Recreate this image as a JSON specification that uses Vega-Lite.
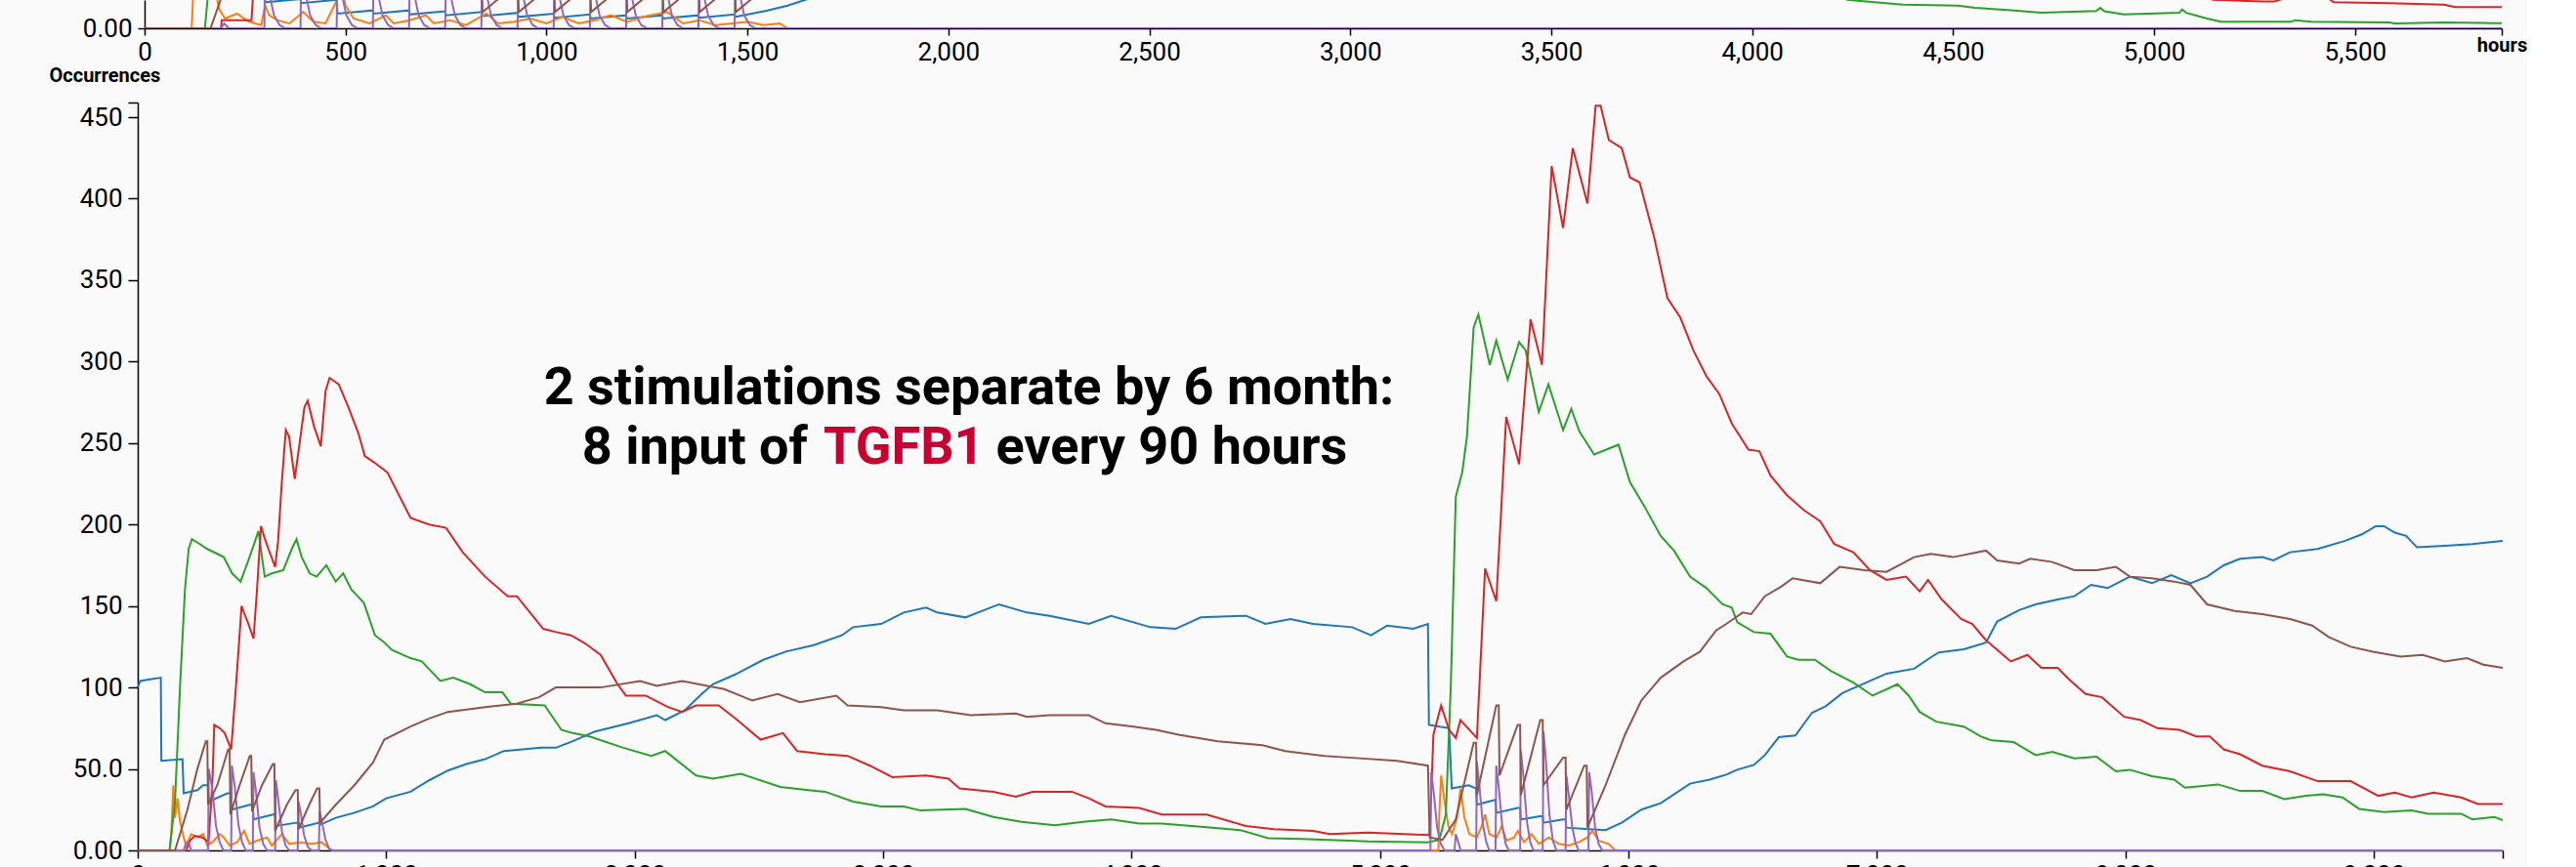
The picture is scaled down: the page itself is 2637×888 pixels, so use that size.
{
"$schema": "https://vega.github.io/schema/vega-lite/v6.json",
"background": "#fafafa",
"padding": {"left": 50, "top": 0, "right": 0, "bottom": 0},
"bounds": "flush",
"spacing": 76,
"config": {"view": {"stroke": null}, "font": "Roboto"},
"datasets": {
"top": [
{"s":"blue","h":0,"v":40},{"s":"blue","h":298,"v":40},{"s":"blue","h":300,"v":16},{"s":"blue","h":388,"v":18},{"s":"blue","h":390,"v":15.5},{"s":"blue","h":478,"v":17.5},{"s":"blue","h":480,"v":9},{"s":"blue","h":568,"v":11},{"s":"blue","h":570,"v":9},{"s":"blue","h":658,"v":11},{"s":"blue","h":660,"v":8.5},{"s":"blue","h":748,"v":10.5},{"s":"blue","h":750,"v":8},{"s":"blue","h":838,"v":10},{"s":"blue","h":840,"v":7.5},{"s":"blue","h":928,"v":9.5},{"s":"blue","h":930,"v":7},{"s":"blue","h":1018,"v":9},{"s":"blue","h":1020,"v":6.5},{"s":"blue","h":1108,"v":8.5},{"s":"blue","h":1110,"v":6},{"s":"blue","h":1198,"v":8},{"s":"blue","h":1200,"v":6},{"s":"blue","h":1288,"v":8},{"s":"blue","h":1290,"v":6},{"s":"blue","h":1378,"v":8},{"s":"blue","h":1380,"v":6.5},{"s":"blue","h":1468,"v":8.5},{"s":"blue","h":1470,"v":7},{"s":"blue","h":1550,"v":11},{"s":"blue","h":1600,"v":14},{"s":"blue","h":1650,"v":18},{"s":"blue","h":1700,"v":25},{"s":"blue","h":5865,"v":40},
{"s":"orange","h":0,"v":0},{"s":"orange","h":117,"v":0},{"s":"orange","h":125,"v":40},{"s":"orange","h":165,"v":40},{"s":"orange","h":185,"v":12},{"s":"orange","h":200,"v":6},{"s":"orange","h":230,"v":9},{"s":"orange","h":260,"v":4},{"s":"orange","h":290,"v":2},{"s":"orange","h":300,"v":14},{"s":"orange","h":310,"v":8},{"s":"orange","h":330,"v":5},{"s":"orange","h":360,"v":3},{"s":"orange","h":395,"v":10},{"s":"orange","h":420,"v":4},{"s":"orange","h":450,"v":3},{"s":"orange","h":480,"v":18},{"s":"orange","h":490,"v":25},{"s":"orange","h":500,"v":14},{"s":"orange","h":520,"v":6},{"s":"orange","h":560,"v":3},{"s":"orange","h":600,"v":8},{"s":"orange","h":620,"v":3},{"s":"orange","h":660,"v":5},{"s":"orange","h":700,"v":8},{"s":"orange","h":720,"v":3},{"s":"orange","h":760,"v":5},{"s":"orange","h":800,"v":2},{"s":"orange","h":850,"v":9},{"s":"orange","h":880,"v":3},{"s":"orange","h":920,"v":4},{"s":"orange","h":960,"v":6},{"s":"orange","h":1000,"v":3},{"s":"orange","h":1040,"v":7},{"s":"orange","h":1080,"v":3},{"s":"orange","h":1120,"v":5},{"s":"orange","h":1160,"v":8},{"s":"orange","h":1200,"v":4},{"s":"orange","h":1240,"v":7},{"s":"orange","h":1300,"v":10},{"s":"orange","h":1340,"v":3},{"s":"orange","h":1380,"v":5},{"s":"orange","h":1420,"v":2},{"s":"orange","h":1500,"v":4},{"s":"orange","h":1540,"v":2},{"s":"orange","h":1580,"v":3},{"s":"orange","h":1600,"v":0},{"s":"orange","h":5865,"v":0},
{"s":"green","h":0,"v":0},{"s":"green","h":150,"v":0},{"s":"green","h":165,"v":40},{"s":"green","h":4150,"v":40},{"s":"green","h":4236,"v":17.5},{"s":"green","h":4375,"v":14.6},{"s":"green","h":4512,"v":14},{"s":"green","h":4554,"v":12.6},{"s":"green","h":4637,"v":11.2},{"s":"green","h":4719,"v":9.6},{"s":"green","h":4856,"v":10.6},{"s":"green","h":4866,"v":12.6},{"s":"green","h":4876,"v":10.5},{"s":"green","h":4925,"v":8.6},{"s":"green","h":5063,"v":9.6},{"s":"green","h":5070,"v":11.6},{"s":"green","h":5080,"v":9.5},{"s":"green","h":5132,"v":6},{"s":"green","h":5166,"v":4},{"s":"green","h":5340,"v":4},{"s":"green","h":5351,"v":5},{"s":"green","h":5392,"v":4},{"s":"green","h":5584,"v":3.6},{"s":"green","h":5600,"v":3},{"s":"green","h":5721,"v":3.6},{"s":"green","h":5852,"v":3.2},{"s":"green","h":5865,"v":3.2},
{"s":"red","h":0,"v":0},{"s":"red","h":190,"v":0},{"s":"red","h":192,"v":5},{"s":"red","h":266,"v":5},{"s":"red","h":275,"v":40},{"s":"red","h":5100,"v":40},{"s":"red","h":5146,"v":17.5},{"s":"red","h":5270,"v":16.5},{"s":"red","h":5300,"v":16.5},{"s":"red","h":5330,"v":19},{"s":"red","h":5430,"v":19},{"s":"red","h":5447,"v":16},{"s":"red","h":5584,"v":15.5},{"s":"red","h":5721,"v":14.6},{"s":"red","h":5749,"v":13},{"s":"red","h":5865,"v":13},
{"s":"purple","h":0,"v":0},{"s":"purple","h":190,"v":0},{"s":"purple","h":198,"v":3},{"s":"purple","h":210,"v":0},
{"s":"purple","h":298,"v":0},{"s":"purple","h":300,"v":40},{"s":"purple","h":310,"v":22},{"s":"purple","h":322,"v":8},{"s":"purple","h":336,"v":2},{"s":"purple","h":350,"v":0},
{"s":"purple","h":388,"v":0},{"s":"purple","h":390,"v":40},{"s":"purple","h":400,"v":22},{"s":"purple","h":412,"v":8},{"s":"purple","h":426,"v":2},{"s":"purple","h":440,"v":0},
{"s":"purple","h":478,"v":0},{"s":"purple","h":480,"v":40},{"s":"purple","h":490,"v":22},{"s":"purple","h":502,"v":8},{"s":"purple","h":516,"v":2},{"s":"purple","h":530,"v":0},
{"s":"purple","h":568,"v":0},{"s":"purple","h":570,"v":40},{"s":"purple","h":580,"v":22},{"s":"purple","h":592,"v":8},{"s":"purple","h":606,"v":2},{"s":"purple","h":620,"v":0},
{"s":"purple","h":658,"v":0},{"s":"purple","h":660,"v":40},{"s":"purple","h":670,"v":22},{"s":"purple","h":682,"v":8},{"s":"purple","h":696,"v":2},{"s":"purple","h":710,"v":0},
{"s":"purple","h":748,"v":0},{"s":"purple","h":750,"v":40},{"s":"purple","h":760,"v":22},{"s":"purple","h":772,"v":8},{"s":"purple","h":786,"v":2},{"s":"purple","h":800,"v":0},
{"s":"purple","h":838,"v":0},{"s":"purple","h":840,"v":40},{"s":"purple","h":850,"v":22},{"s":"purple","h":862,"v":8},{"s":"purple","h":876,"v":2},{"s":"purple","h":890,"v":0},
{"s":"purple","h":928,"v":0},{"s":"purple","h":930,"v":40},{"s":"purple","h":940,"v":22},{"s":"purple","h":952,"v":8},{"s":"purple","h":966,"v":2},{"s":"purple","h":980,"v":0},
{"s":"purple","h":1018,"v":0},{"s":"purple","h":1020,"v":40},{"s":"purple","h":1030,"v":22},{"s":"purple","h":1042,"v":8},{"s":"purple","h":1056,"v":2},{"s":"purple","h":1070,"v":0},
{"s":"purple","h":1108,"v":0},{"s":"purple","h":1110,"v":40},{"s":"purple","h":1120,"v":22},{"s":"purple","h":1132,"v":8},{"s":"purple","h":1146,"v":2},{"s":"purple","h":1160,"v":0},
{"s":"purple","h":1198,"v":0},{"s":"purple","h":1200,"v":40},{"s":"purple","h":1210,"v":22},{"s":"purple","h":1222,"v":8},{"s":"purple","h":1236,"v":2},{"s":"purple","h":1250,"v":0},
{"s":"purple","h":1288,"v":0},{"s":"purple","h":1290,"v":40},{"s":"purple","h":1300,"v":22},{"s":"purple","h":1312,"v":8},{"s":"purple","h":1326,"v":2},{"s":"purple","h":1340,"v":0},
{"s":"purple","h":1378,"v":0},{"s":"purple","h":1380,"v":40},{"s":"purple","h":1390,"v":22},{"s":"purple","h":1402,"v":8},{"s":"purple","h":1416,"v":2},{"s":"purple","h":1430,"v":0},
{"s":"purple","h":1468,"v":0},{"s":"purple","h":1470,"v":40},{"s":"purple","h":1480,"v":22},{"s":"purple","h":1492,"v":8},{"s":"purple","h":1506,"v":2},{"s":"purple","h":1520,"v":0},
{"s":"purple","h":5865,"v":0},
{"s":"brown","h":0,"v":0},{"s":"brown","h":164,"v":0},{"s":"brown","h":200,"v":25},{"s":"brown","h":300,"v":40},{"s":"brown","h":745,"v":40},{"s":"brown","h":751,"v":20},
{"s":"brown","h":839,"v":26},{"s":"brown","h":841,"v":10},{"s":"brown","h":880,"v":18},
{"s":"brown","h":929,"v":26},{"s":"brown","h":931,"v":10},{"s":"brown","h":970,"v":18},
{"s":"brown","h":1019,"v":26},{"s":"brown","h":1021,"v":10},{"s":"brown","h":1060,"v":18},
{"s":"brown","h":1109,"v":26},{"s":"brown","h":1111,"v":10},{"s":"brown","h":1150,"v":18},
{"s":"brown","h":1199,"v":26},{"s":"brown","h":1201,"v":10},{"s":"brown","h":1240,"v":18},
{"s":"brown","h":1289,"v":26},{"s":"brown","h":1291,"v":10},{"s":"brown","h":1330,"v":18},
{"s":"brown","h":1379,"v":26},{"s":"brown","h":1381,"v":10},{"s":"brown","h":1420,"v":18},
{"s":"brown","h":1469,"v":26},{"s":"brown","h":1471,"v":10},{"s":"brown","h":1510,"v":18},
{"s":"brown","h":1560,"v":26},{"s":"brown","h":1700,"v":40},{"s":"brown","h":5865,"v":40}
],
"bottom": [
{"s":"blue","h":0,"v":100},{"s":"blue","h":10,"v":104},{"s":"blue","h":50,"v":105},{"s":"blue","h":93,"v":106},{"s":"blue","h":95,"v":55},{"s":"blue","h":180,"v":56},{"s":"blue","h":185,"v":35},{"s":"blue","h":240,"v":37},{"s":"blue","h":263,"v":40},{"s":"blue","h":283,"v":40},{"s":"blue","h":286,"v":30},{"s":"blue","h":361,"v":35},{"s":"blue","h":376,"v":35},{"s":"blue","h":379,"v":25},{"s":"blue","h":451,"v":28},{"s":"blue","h":463,"v":28},{"s":"blue","h":466,"v":19},{"s":"blue","h":544,"v":22},{"s":"blue","h":553,"v":22},{"s":"blue","h":556,"v":15},{"s":"blue","h":640,"v":17},{"s":"blue","h":647,"v":17},{"s":"blue","h":649,"v":14},{"s":"blue","h":730,"v":17},{"s":"blue","h":737,"v":16},{"s":"blue","h":797,"v":20},{"s":"blue","h":870,"v":23},{"s":"blue","h":947,"v":27},{"s":"blue","h":1000,"v":32},{"s":"blue","h":1098,"v":36},{"s":"blue","h":1173,"v":43},{"s":"blue","h":1248,"v":49},{"s":"blue","h":1323,"v":53},{"s":"blue","h":1398,"v":56},{"s":"blue","h":1474,"v":61},{"s":"blue","h":1549,"v":62},{"s":"blue","h":1624,"v":63},{"s":"blue","h":1683,"v":63},{"s":"blue","h":1751,"v":67},{"s":"blue","h":1841,"v":73},{"s":"blue","h":1976,"v":78},{"s":"blue","h":2089,"v":83},{"s":"blue","h":2123,"v":80},{"s":"blue","h":2202,"v":86},{"s":"blue","h":2270,"v":96},{"s":"blue","h":2315,"v":102},{"s":"blue","h":2405,"v":108},{"s":"blue","h":2518,"v":117},{"s":"blue","h":2609,"v":122},{"s":"blue","h":2721,"v":126},{"s":"blue","h":2834,"v":132},{"s":"blue","h":2879,"v":137},{"s":"blue","h":2992,"v":139},{"s":"blue","h":3083,"v":146},{"s":"blue","h":3173,"v":149},{"s":"blue","h":3218,"v":146},{"s":"blue","h":3331,"v":143},{"s":"blue","h":3466,"v":151},{"s":"blue","h":3579,"v":146},{"s":"blue","h":3670,"v":144},{"s":"blue","h":3828,"v":139},{"s":"blue","h":3918,"v":144},{"s":"blue","h":4076,"v":137},{"s":"blue","h":4177,"v":136},{"s":"blue","h":4279,"v":143},{"s":"blue","h":4460,"v":144},{"s":"blue","h":4539,"v":139},{"s":"blue","h":4640,"v":142},{"s":"blue","h":4730,"v":139},{"s":"blue","h":4888,"v":137},{"s":"blue","h":4964,"v":132},{"s":"blue","h":5029,"v":138},{"s":"blue","h":5134,"v":136},{"s":"blue","h":5193,"v":139},{"s":"blue","h":5197,"v":77},{"s":"blue","h":5278,"v":75},{"s":"blue","h":5289,"v":38},{"s":"blue","h":5357,"v":40},{"s":"blue","h":5387,"v":38},{"s":"blue","h":5390,"v":28},{"s":"blue","h":5462,"v":31},{"s":"blue","h":5465,"v":31},{"s":"blue","h":5468,"v":23},{"s":"blue","h":5554,"v":26},{"s":"blue","h":5564,"v":26},{"s":"blue","h":5567,"v":19},{"s":"blue","h":5645,"v":21},{"s":"blue","h":5655,"v":21},{"s":"blue","h":5658,"v":17},{"s":"blue","h":5737,"v":19},{"s":"blue","h":5747,"v":19},{"s":"blue","h":5750,"v":14},{"s":"blue","h":5842,"v":13},{"s":"blue","h":5908,"v":12.5},{"s":"blue","h":5973,"v":17},{"s":"blue","h":6052,"v":25},{"s":"blue","h":6130,"v":29},{"s":"blue","h":6248,"v":41},{"s":"blue","h":6327,"v":43.5},{"s":"blue","h":6394,"v":46.5},{"s":"blue","h":6438,"v":49.5},{"s":"blue","h":6505,"v":52.5},{"s":"blue","h":6549,"v":58.5},{"s":"blue","h":6605,"v":69.5},{"s":"blue","h":6672,"v":70.5},{"s":"blue","h":6739,"v":84.5},{"s":"blue","h":6794,"v":88.5},{"s":"blue","h":6861,"v":96.5},{"s":"blue","h":6950,"v":102.5},{"s":"blue","h":7039,"v":108.5},{"s":"blue","h":7150,"v":111.5},{"s":"blue","h":7217,"v":118.5},{"s":"blue","h":7250,"v":121.5},{"s":"blue","h":7350,"v":123.5},{"s":"blue","h":7439,"v":127.5},{"s":"blue","h":7484,"v":140.5},{"s":"blue","h":7573,"v":147.5},{"s":"blue","h":7639,"v":151},{"s":"blue","h":7728,"v":154},{"s":"blue","h":7795,"v":156},{"s":"blue","h":7862,"v":163},{"s":"blue","h":7929,"v":161},{"s":"blue","h":8018,"v":168},{"s":"blue","h":8107,"v":164},{"s":"blue","h":8185,"v":169},{"s":"blue","h":8262,"v":164},{"s":"blue","h":8329,"v":168},{"s":"blue","h":8396,"v":175},{"s":"blue","h":8462,"v":179},{"s":"blue","h":8551,"v":180},{"s":"blue","h":8596,"v":178},{"s":"blue","h":8663,"v":183},{"s":"blue","h":8774,"v":185},{"s":"blue","h":8885,"v":190},{"s":"blue","h":8952,"v":194},{"s":"blue","h":9008,"v":199},{"s":"blue","h":9041,"v":199},{"s":"blue","h":9085,"v":195},{"s":"blue","h":9130,"v":193},{"s":"blue","h":9174,"v":186},{"s":"blue","h":9286,"v":187},{"s":"blue","h":9397,"v":188},{"s":"blue","h":9519,"v":190},
{"s":"orange","h":0,"v":0},{"s":"orange","h":128,"v":0},{"s":"orange","h":135,"v":10},{"s":"orange","h":143,"v":40},{"s":"orange","h":150,"v":20},{"s":"orange","h":160,"v":32},{"s":"orange","h":170,"v":18},{"s":"orange","h":185,"v":8},{"s":"orange","h":195,"v":3},{"s":"orange","h":215,"v":10},{"s":"orange","h":240,"v":8},{"s":"orange","h":263,"v":10},{"s":"orange","h":280,"v":3},{"s":"orange","h":300,"v":5},{"s":"orange","h":330,"v":10},{"s":"orange","h":346,"v":8},{"s":"orange","h":370,"v":3},{"s":"orange","h":400,"v":5},{"s":"orange","h":428,"v":12},{"s":"orange","h":450,"v":4},{"s":"orange","h":480,"v":6},{"s":"orange","h":520,"v":8},{"s":"orange","h":540,"v":3},{"s":"orange","h":580,"v":10},{"s":"orange","h":610,"v":4},{"s":"orange","h":650,"v":5},{"s":"orange","h":700,"v":4},{"s":"orange","h":740,"v":5},{"s":"orange","h":782,"v":0},{"s":"orange","h":5235,"v":0},{"s":"orange","h":5238,"v":20},{"s":"orange","h":5246,"v":46},{"s":"orange","h":5260,"v":30},{"s":"orange","h":5275,"v":15},{"s":"orange","h":5290,"v":10},{"s":"orange","h":5310,"v":20},{"s":"orange","h":5324,"v":38},{"s":"orange","h":5340,"v":20},{"s":"orange","h":5360,"v":10},{"s":"orange","h":5390,"v":8},{"s":"orange","h":5410,"v":15},{"s":"orange","h":5423,"v":22},{"s":"orange","h":5440,"v":10},{"s":"orange","h":5470,"v":8},{"s":"orange","h":5490,"v":15},{"s":"orange","h":5510,"v":6},{"s":"orange","h":5540,"v":8},{"s":"orange","h":5555,"v":12},{"s":"orange","h":5580,"v":5},{"s":"orange","h":5610,"v":10},{"s":"orange","h":5640,"v":4},{"s":"orange","h":5680,"v":8},{"s":"orange","h":5720,"v":4},{"s":"orange","h":5760,"v":3},{"s":"orange","h":5800,"v":5},{"s":"orange","h":5835,"v":8},{"s":"orange","h":5855,"v":12},{"s":"orange","h":5880,"v":6},{"s":"orange","h":5920,"v":4},{"s":"orange","h":5947,"v":0},{"s":"orange","h":9519,"v":0},
{"s":"green","h":0,"v":0},{"s":"green","h":128,"v":0},{"s":"green","h":150,"v":30},{"s":"green","h":170,"v":100},{"s":"green","h":190,"v":160},{"s":"green","h":205,"v":185},{"s":"green","h":218,"v":191},{"s":"green","h":250,"v":188},{"s":"green","h":280,"v":185},{"s":"green","h":320,"v":182},{"s":"green","h":346,"v":180},{"s":"green","h":380,"v":170},{"s":"green","h":414,"v":165},{"s":"green","h":450,"v":180},{"s":"green","h":486,"v":196},{"s":"green","h":500,"v":180},{"s":"green","h":511,"v":168},{"s":"green","h":540,"v":170},{"s":"green","h":586,"v":172},{"s":"green","h":620,"v":185},{"s":"green","h":639,"v":191},{"s":"green","h":660,"v":180},{"s":"green","h":692,"v":170},{"s":"green","h":720,"v":168},{"s":"green","h":759,"v":175},{"s":"green","h":797,"v":165},{"s":"green","h":827,"v":170},{"s":"green","h":860,"v":160},{"s":"green","h":910,"v":152},{"s":"green","h":955,"v":132},{"s":"green","h":990,"v":128},{"s":"green","h":1023,"v":123},{"s":"green","h":1098,"v":118},{"s":"green","h":1143,"v":116},{"s":"green","h":1218,"v":104},{"s":"green","h":1270,"v":106},{"s":"green","h":1338,"v":102},{"s":"green","h":1398,"v":97},{"s":"green","h":1468,"v":97},{"s":"green","h":1502,"v":90},{"s":"green","h":1638,"v":89},{"s":"green","h":1705,"v":74},{"s":"green","h":1751,"v":72},{"s":"green","h":1818,"v":70},{"s":"green","h":1954,"v":63},{"s":"green","h":2067,"v":58},{"s":"green","h":2123,"v":61},{"s":"green","h":2247,"v":46},{"s":"green","h":2315,"v":44},{"s":"green","h":2428,"v":47},{"s":"green","h":2586,"v":39},{"s":"green","h":2699,"v":37},{"s":"green","h":2767,"v":36},{"s":"green","h":2879,"v":30},{"s":"green","h":2992,"v":27},{"s":"green","h":3083,"v":27},{"s":"green","h":3150,"v":24.5},{"s":"green","h":3331,"v":25.5},{"s":"green","h":3444,"v":20.5},{"s":"green","h":3557,"v":17.5},{"s":"green","h":3692,"v":15.5},{"s":"green","h":3805,"v":17.5},{"s":"green","h":3918,"v":19},{"s":"green","h":4031,"v":16.5},{"s":"green","h":4121,"v":16.5},{"s":"green","h":4279,"v":14.5},{"s":"green","h":4437,"v":12.5},{"s":"green","h":4550,"v":7.5},{"s":"green","h":4685,"v":7},{"s":"green","h":4952,"v":5.5},{"s":"green","h":5193,"v":5},{"s":"green","h":5239,"v":6.5},{"s":"green","h":5265,"v":22},{"s":"green","h":5285,"v":101},{"s":"green","h":5305,"v":217},{"s":"green","h":5331,"v":232},{"s":"green","h":5350,"v":254},{"s":"green","h":5377,"v":321},{"s":"green","h":5396,"v":329},{"s":"green","h":5442,"v":298},{"s":"green","h":5468,"v":313},{"s":"green","h":5514,"v":289},{"s":"green","h":5560,"v":312},{"s":"green","h":5586,"v":307},{"s":"green","h":5639,"v":269},{"s":"green","h":5678,"v":286},{"s":"green","h":5737,"v":258},{"s":"green","h":5770,"v":271},{"s":"green","h":5803,"v":257},{"s":"green","h":5862,"v":243},{"s":"green","h":5960,"v":249},{"s":"green","h":6006,"v":226},{"s":"green","h":6065,"v":211},{"s":"green","h":6130,"v":193},{"s":"green","h":6183,"v":184},{"s":"green","h":6248,"v":168},{"s":"green","h":6314,"v":161},{"s":"green","h":6379,"v":151},{"s":"green","h":6416,"v":149},{"s":"green","h":6438,"v":140},{"s":"green","h":6505,"v":134},{"s":"green","h":6572,"v":133},{"s":"green","h":6638,"v":119},{"s":"green","h":6683,"v":117},{"s":"green","h":6750,"v":117},{"s":"green","h":6816,"v":110},{"s":"green","h":6905,"v":103},{"s":"green","h":6983,"v":95},{"s":"green","h":7083,"v":102},{"s":"green","h":7128,"v":95},{"s":"green","h":7172,"v":85},{"s":"green","h":7239,"v":79},{"s":"green","h":7350,"v":76},{"s":"green","h":7417,"v":70},{"s":"green","h":7462,"v":67.5},{"s":"green","h":7550,"v":66.5},{"s":"green","h":7639,"v":58.5},{"s":"green","h":7706,"v":60.5},{"s":"green","h":7795,"v":56.5},{"s":"green","h":7884,"v":57.5},{"s":"green","h":7962,"v":48.5},{"s":"green","h":8018,"v":49.5},{"s":"green","h":8107,"v":45.5},{"s":"green","h":8196,"v":43.5},{"s":"green","h":8240,"v":38.5},{"s":"green","h":8373,"v":40.5},{"s":"green","h":8462,"v":36.5},{"s":"green","h":8551,"v":36.5},{"s":"green","h":8640,"v":31.5},{"s":"green","h":8729,"v":33.5},{"s":"green","h":8796,"v":34.5},{"s":"green","h":8874,"v":32.5},{"s":"green","h":8941,"v":25.5},{"s":"green","h":9041,"v":23.5},{"s":"green","h":9152,"v":24.5},{"s":"green","h":9219,"v":22.5},{"s":"green","h":9352,"v":22.5},{"s":"green","h":9397,"v":19},{"s":"green","h":9486,"v":20.5},{"s":"green","h":9519,"v":18.5},
{"s":"red","h":0,"v":0},{"s":"red","h":195,"v":0},{"s":"red","h":210,"v":6},{"s":"red","h":230,"v":9},{"s":"red","h":260,"v":8},{"s":"red","h":285,"v":5},{"s":"red","h":300,"v":40},{"s":"red","h":308,"v":77},{"s":"red","h":330,"v":75},{"s":"red","h":350,"v":72},{"s":"red","h":376,"v":62},{"s":"red","h":395,"v":100},{"s":"red","h":418,"v":150},{"s":"red","h":430,"v":145},{"s":"red","h":443,"v":140},{"s":"red","h":466,"v":130},{"s":"red","h":480,"v":160},{"s":"red","h":496,"v":199},{"s":"red","h":510,"v":192},{"s":"red","h":526,"v":185},{"s":"red","h":553,"v":174},{"s":"red","h":565,"v":190},{"s":"red","h":579,"v":224},{"s":"red","h":596,"v":258},{"s":"red","h":609,"v":254},{"s":"red","h":632,"v":228},{"s":"red","h":671,"v":272},{"s":"red","h":684,"v":276},{"s":"red","h":710,"v":260},{"s":"red","h":737,"v":248},{"s":"red","h":756,"v":282},{"s":"red","h":772,"v":290},{"s":"red","h":809,"v":286},{"s":"red","h":848,"v":272},{"s":"red","h":888,"v":256},{"s":"red","h":914,"v":242},{"s":"red","h":953,"v":238},{"s":"red","h":1005,"v":232},{"s":"red","h":1098,"v":204},{"s":"red","h":1173,"v":200},{"s":"red","h":1241,"v":198},{"s":"red","h":1308,"v":183},{"s":"red","h":1398,"v":168},{"s":"red","h":1489,"v":156},{"s":"red","h":1526,"v":156},{"s":"red","h":1579,"v":146},{"s":"red","h":1632,"v":136},{"s":"red","h":1684,"v":134},{"s":"red","h":1744,"v":132},{"s":"red","h":1801,"v":127},{"s":"red","h":1863,"v":120},{"s":"red","h":1931,"v":102},{"s":"red","h":1965,"v":95},{"s":"red","h":2044,"v":95},{"s":"red","h":2134,"v":88},{"s":"red","h":2191,"v":85},{"s":"red","h":2247,"v":89},{"s":"red","h":2338,"v":89},{"s":"red","h":2405,"v":81},{"s":"red","h":2507,"v":68},{"s":"red","h":2597,"v":72},{"s":"red","h":2654,"v":61},{"s":"red","h":2767,"v":59},{"s":"red","h":2857,"v":58},{"s":"red","h":2947,"v":52},{"s":"red","h":3037,"v":45},{"s":"red","h":3173,"v":46},{"s":"red","h":3263,"v":44},{"s":"red","h":3308,"v":38},{"s":"red","h":3444,"v":36},{"s":"red","h":3534,"v":33},{"s":"red","h":3602,"v":36},{"s":"red","h":3760,"v":36},{"s":"red","h":3828,"v":32},{"s":"red","h":3895,"v":27},{"s":"red","h":4031,"v":26},{"s":"red","h":4121,"v":22},{"s":"red","h":4302,"v":22},{"s":"red","h":4460,"v":15},{"s":"red","h":4573,"v":13},{"s":"red","h":4730,"v":12},{"s":"red","h":4798,"v":10},{"s":"red","h":4952,"v":11},{"s":"red","h":5193,"v":9.5},{"s":"red","h":5200,"v":10},{"s":"red","h":5215,"v":71},{"s":"red","h":5246,"v":89},{"s":"red","h":5278,"v":74},{"s":"red","h":5305,"v":69},{"s":"red","h":5324,"v":80},{"s":"red","h":5390,"v":69},{"s":"red","h":5423,"v":173},{"s":"red","h":5468,"v":153},{"s":"red","h":5508,"v":266},{"s":"red","h":5560,"v":237},{"s":"red","h":5606,"v":326},{"s":"red","h":5652,"v":298},{"s":"red","h":5691,"v":420},{"s":"red","h":5737,"v":382},{"s":"red","h":5776,"v":431},{"s":"red","h":5835,"v":397},{"s":"red","h":5868,"v":457},{"s":"red","h":5888,"v":457},{"s":"red","h":5921,"v":436},{"s":"red","h":5973,"v":431},{"s":"red","h":6006,"v":413},{"s":"red","h":6045,"v":410},{"s":"red","h":6104,"v":376},{"s":"red","h":6157,"v":339},{"s":"red","h":6209,"v":327},{"s":"red","h":6261,"v":307},{"s":"red","h":6314,"v":291},{"s":"red","h":6366,"v":280},{"s":"red","h":6416,"v":262},{"s":"red","h":6483,"v":246},{"s":"red","h":6527,"v":245},{"s":"red","h":6572,"v":230},{"s":"red","h":6638,"v":218},{"s":"red","h":6705,"v":209},{"s":"red","h":6772,"v":202},{"s":"red","h":6828,"v":188},{"s":"red","h":6905,"v":183},{"s":"red","h":6972,"v":172},{"s":"red","h":7039,"v":166},{"s":"red","h":7117,"v":168},{"s":"red","h":7172,"v":159},{"s":"red","h":7206,"v":166},{"s":"red","h":7261,"v":154},{"s":"red","h":7339,"v":142},{"s":"red","h":7384,"v":139},{"s":"red","h":7439,"v":129},{"s":"red","h":7539,"v":116},{"s":"red","h":7606,"v":120},{"s":"red","h":7662,"v":112},{"s":"red","h":7728,"v":112},{"s":"red","h":7773,"v":105},{"s":"red","h":7840,"v":96},{"s":"red","h":7906,"v":94},{"s":"red","h":7995,"v":82},{"s":"red","h":8062,"v":80},{"s":"red","h":8129,"v":75},{"s":"red","h":8218,"v":74},{"s":"red","h":8285,"v":70},{"s":"red","h":8340,"v":70},{"s":"red","h":8396,"v":62},{"s":"red","h":8462,"v":59},{"s":"red","h":8551,"v":52},{"s":"red","h":8663,"v":48.5},{"s":"red","h":8774,"v":42.5},{"s":"red","h":8907,"v":42.5},{"s":"red","h":9018,"v":33.5},{"s":"red","h":9085,"v":35.5},{"s":"red","h":9152,"v":32.5},{"s":"red","h":9241,"v":35.5},{"s":"red","h":9352,"v":32.5},{"s":"red","h":9419,"v":28.5},{"s":"red","h":9519,"v":28.5},
{"s":"purple","h":0,"v":0},{"s":"purple","h":185,"v":0},{"s":"purple","h":195,"v":5},{"s":"purple","h":205,"v":5},{"s":"purple","h":215,"v":0},
{"s":"purple","h":283,"v":0},{"s":"purple","h":286,"v":50},{"s":"purple","h":300,"v":38},{"s":"purple","h":315,"v":15},{"s":"purple","h":330,"v":5},{"s":"purple","h":345,"v":0},
{"s":"purple","h":376,"v":0},{"s":"purple","h":379,"v":52},{"s":"purple","h":390,"v":40},{"s":"purple","h":405,"v":16},{"s":"purple","h":420,"v":5},{"s":"purple","h":435,"v":0},
{"s":"purple","h":463,"v":0},{"s":"purple","h":466,"v":48},{"s":"purple","h":476,"v":36},{"s":"purple","h":490,"v":14},{"s":"purple","h":505,"v":4},{"s":"purple","h":520,"v":0},
{"s":"purple","h":553,"v":0},{"s":"purple","h":556,"v":43},{"s":"purple","h":566,"v":31},{"s":"purple","h":580,"v":12},{"s":"purple","h":595,"v":3},{"s":"purple","h":610,"v":0},
{"s":"purple","h":644,"v":0},{"s":"purple","h":647,"v":30},{"s":"purple","h":657,"v":22},{"s":"purple","h":670,"v":9},{"s":"purple","h":685,"v":2},{"s":"purple","h":700,"v":0},
{"s":"purple","h":729,"v":0},{"s":"purple","h":732,"v":24},{"s":"purple","h":742,"v":17},{"s":"purple","h":755,"v":7},{"s":"purple","h":770,"v":1},{"s":"purple","h":785,"v":0},
{"s":"purple","h":5203,"v":0},{"s":"purple","h":5206,"v":48},{"s":"purple","h":5216,"v":36},{"s":"purple","h":5230,"v":14},{"s":"purple","h":5245,"v":4},{"s":"purple","h":5260,"v":0},
{"s":"purple","h":5300,"v":0},{"s":"purple","h":5305,"v":10},{"s":"purple","h":5315,"v":5},{"s":"purple","h":5325,"v":0},
{"s":"purple","h":5387,"v":0},{"s":"purple","h":5390,"v":54},{"s":"purple","h":5400,"v":40},{"s":"purple","h":5414,"v":16},{"s":"purple","h":5428,"v":5},{"s":"purple","h":5440,"v":0},
{"s":"purple","h":5465,"v":0},{"s":"purple","h":5468,"v":52},{"s":"purple","h":5478,"v":39},{"s":"purple","h":5492,"v":15},{"s":"purple","h":5506,"v":4},{"s":"purple","h":5518,"v":0},
{"s":"purple","h":5564,"v":0},{"s":"purple","h":5567,"v":61},{"s":"purple","h":5577,"v":46},{"s":"purple","h":5591,"v":18},{"s":"purple","h":5605,"v":5},{"s":"purple","h":5618,"v":0},
{"s":"purple","h":5655,"v":0},{"s":"purple","h":5658,"v":73},{"s":"purple","h":5668,"v":55},{"s":"purple","h":5682,"v":22},{"s":"purple","h":5696,"v":6},{"s":"purple","h":5710,"v":0},
{"s":"purple","h":5747,"v":0},{"s":"purple","h":5750,"v":46},{"s":"purple","h":5760,"v":34},{"s":"purple","h":5774,"v":14},{"s":"purple","h":5788,"v":4},{"s":"purple","h":5800,"v":0},
{"s":"purple","h":5839,"v":0},{"s":"purple","h":5842,"v":48},{"s":"purple","h":5852,"v":36},{"s":"purple","h":5866,"v":14},{"s":"purple","h":5880,"v":4},{"s":"purple","h":5895,"v":0},
{"s":"purple","h":9519,"v":0},
{"s":"brown","h":0,"v":0},{"s":"brown","h":150,"v":0},{"s":"brown","h":200,"v":25},{"s":"brown","h":240,"v":50},{"s":"brown","h":274,"v":67},{"s":"brown","h":280,"v":67},{"s":"brown","h":283,"v":28},{"s":"brown","h":320,"v":40},{"s":"brown","h":364,"v":62},{"s":"brown","h":370,"v":62},{"s":"brown","h":373,"v":22},{"s":"brown","h":410,"v":40},{"s":"brown","h":451,"v":58},{"s":"brown","h":457,"v":58},{"s":"brown","h":460,"v":24},{"s":"brown","h":500,"v":40},{"s":"brown","h":544,"v":53},{"s":"brown","h":550,"v":53},{"s":"brown","h":553,"v":12},{"s":"brown","h":600,"v":28},{"s":"brown","h":635,"v":37},{"s":"brown","h":644,"v":37},{"s":"brown","h":647,"v":13},{"s":"brown","h":690,"v":28},{"s":"brown","h":722,"v":38},{"s":"brown","h":731,"v":38},{"s":"brown","h":734,"v":17},{"s":"brown","h":797,"v":28},{"s":"brown","h":872,"v":40},{"s":"brown","h":947,"v":54},{"s":"brown","h":992,"v":68},{"s":"brown","h":1098,"v":76},{"s":"brown","h":1173,"v":81},{"s":"brown","h":1248,"v":85},{"s":"brown","h":1398,"v":88},{"s":"brown","h":1525,"v":90},{"s":"brown","h":1615,"v":94},{"s":"brown","h":1683,"v":100},{"s":"brown","h":1796,"v":100},{"s":"brown","h":1863,"v":100},{"s":"brown","h":2022,"v":104},{"s":"brown","h":2089,"v":101},{"s":"brown","h":2191,"v":104},{"s":"brown","h":2293,"v":101},{"s":"brown","h":2360,"v":99},{"s":"brown","h":2473,"v":92},{"s":"brown","h":2575,"v":96},{"s":"brown","h":2665,"v":91},{"s":"brown","h":2812,"v":95},{"s":"brown","h":2857,"v":89},{"s":"brown","h":2992,"v":88},{"s":"brown","h":3083,"v":86},{"s":"brown","h":3218,"v":86},{"s":"brown","h":3353,"v":83},{"s":"brown","h":3534,"v":84},{"s":"brown","h":3579,"v":82},{"s":"brown","h":3670,"v":83},{"s":"brown","h":3828,"v":83},{"s":"brown","h":3895,"v":78},{"s":"brown","h":4008,"v":76},{"s":"brown","h":4098,"v":74},{"s":"brown","h":4189,"v":71},{"s":"brown","h":4347,"v":67},{"s":"brown","h":4527,"v":64.5},{"s":"brown","h":4618,"v":61},{"s":"brown","h":4776,"v":58},{"s":"brown","h":4872,"v":57},{"s":"brown","h":5069,"v":55},{"s":"brown","h":5193,"v":52},{"s":"brown","h":5200,"v":8},{"s":"brown","h":5252,"v":6.5},{"s":"brown","h":5305,"v":19},{"s":"brown","h":5377,"v":66},{"s":"brown","h":5387,"v":66},{"s":"brown","h":5390,"v":34},{"s":"brown","h":5468,"v":89},{"s":"brown","h":5478,"v":89},{"s":"brown","h":5481,"v":46},{"s":"brown","h":5554,"v":77},{"s":"brown","h":5564,"v":77},{"s":"brown","h":5567,"v":34},{"s":"brown","h":5645,"v":80},{"s":"brown","h":5655,"v":80},{"s":"brown","h":5658,"v":40},{"s":"brown","h":5737,"v":57},{"s":"brown","h":5747,"v":57},{"s":"brown","h":5750,"v":25},{"s":"brown","h":5822,"v":52},{"s":"brown","h":5832,"v":52},{"s":"brown","h":5835,"v":14},{"s":"brown","h":5908,"v":40},{"s":"brown","h":5986,"v":71},{"s":"brown","h":6052,"v":92},{"s":"brown","h":6130,"v":106},{"s":"brown","h":6222,"v":116},{"s":"brown","h":6288,"v":122},{"s":"brown","h":6353,"v":135},{"s":"brown","h":6394,"v":139},{"s":"brown","h":6460,"v":146},{"s":"brown","h":6494,"v":145},{"s":"brown","h":6549,"v":156},{"s":"brown","h":6616,"v":162},{"s":"brown","h":6661,"v":167},{"s":"brown","h":6772,"v":164},{"s":"brown","h":6850,"v":174},{"s":"brown","h":6950,"v":172},{"s":"brown","h":7039,"v":171},{"s":"brown","h":7150,"v":180},{"s":"brown","h":7217,"v":182},{"s":"brown","h":7306,"v":180},{"s":"brown","h":7439,"v":184},{"s":"brown","h":7484,"v":178},{"s":"brown","h":7573,"v":176},{"s":"brown","h":7617,"v":179},{"s":"brown","h":7706,"v":177},{"s":"brown","h":7795,"v":172},{"s":"brown","h":7884,"v":172},{"s":"brown","h":7962,"v":174},{"s":"brown","h":8018,"v":168},{"s":"brown","h":8107,"v":167},{"s":"brown","h":8196,"v":165},{"s":"brown","h":8262,"v":163},{"s":"brown","h":8329,"v":151},{"s":"brown","h":8440,"v":147},{"s":"brown","h":8551,"v":145},{"s":"brown","h":8663,"v":142},{"s":"brown","h":8752,"v":138},{"s":"brown","h":8818,"v":131},{"s":"brown","h":8907,"v":125},{"s":"brown","h":8996,"v":122},{"s":"brown","h":9108,"v":119},{"s":"brown","h":9197,"v":120},{"s":"brown","h":9286,"v":116},{"s":"brown","h":9375,"v":118},{"s":"brown","h":9441,"v":114},{"s":"brown","h":9519,"v":112}
]
},
"vconcat": [
{
"width": 2421,
"height": 29,
"data": {"name": "top"},
"mark": {"type": "line", "clip": true, "strokeWidth": 2},
"encoding": {
"x": {"field": "h", "type": "quantitative",
"scale": {"domain": [0, 5865], "range": [7, 2420], "nice": false, "zero": false},
"axis": {"values": [0,500,1000,1500,2000,2500,3000,3500,4000,4500,5000,5500,5865], "labelExpr": "datum.value > 5800 ? '' : format(datum.value, ',')", "labelFlush": false, "labelOverlap": false, "grid": false, "tickSize": 7, "tickWidth": 1.5, "tickColor": "#000", "domainColor": "#000", "domainWidth": 1.5, "labelFontSize": 26, "labelColor": "#000", "labelPadding": 4, "title": "hours", "titleFontSize": 20, "titleFontWeight": "bold", "titleColor": "#000", "titleX": 2420, "titleY": 23, "titleAlign": "center", "titleBaseline": "alphabetic"}},
"y": {"field": "v", "type": "quantitative",
"scale": {"domain": [0, 17.4], "nice": false, "zero": true},
"axis": {"values": [0], "labelExpr": "'0.00'", "offset": -7, "grid": false, "tickSize": 7, "tickWidth": 1.5, "tickColor": "#000", "domainColor": "#000", "domainWidth": 1.5, "labelFontSize": 26, "labelColor": "#000", "labelPadding": 6, "title": null}},
"color": {"field": "s", "type": "nominal", "legend": null,
"scale": {"domain": ["blue","orange","green","red","purple","brown"], "range": ["#1f77b4","#ff7f0e","#2ca02c","#d62728","#9467bd","#8c564b"]}}
}
},
{
"width": 2421,
"height": 766,
"layer": [
{
"data": {"name": "bottom"},
"mark": {"type": "line", "strokeWidth": 2},
"encoding": {
"x": {"field": "h", "type": "quantitative",
"scale": {"domain": [0, 9519], "nice": false, "zero": false},
"axis": {"values": [0,1000,2000,3000,4000,5000,6000,7000,8000,9000,9519], "labelExpr": "datum.value > 9500 ? '' : format(datum.value, ',')", "labelFlush": false, "labelOverlap": false, "grid": false, "tickSize": 8, "tickWidth": 1.5, "tickColor": "#000", "domainColor": "#000", "domainWidth": 1.5, "labelFontSize": 26, "labelColor": "#000", "labelPadding": 4, "title": null}},
"y": {"field": "v", "type": "quantitative",
"scale": {"domain": [0, 459], "nice": false},
"axis": {"values": [0,50,100,150,200,250,300,350,400,450,459], "labelExpr": "datum.value > 455 ? '' : (datum.value == 0 ? '0.00' : format(datum.value, '.3r'))", "grid": false, "tickSize": 10, "tickWidth": 1.5, "tickColor": "#000", "domainColor": "#000", "domainWidth": 1.5, "labelFontSize": 26, "labelColor": "#000", "labelPadding": 6, "title": "Occurrences", "titleAngle": 0, "titleX": -91, "titleY": -22, "titleAlign": "left", "titleBaseline": "alphabetic", "titleFontSize": 20, "titleFontWeight": "bold", "titleColor": "#000"}},
"color": {"field": "s", "type": "nominal", "legend": null,
"scale": {"domain": ["blue","orange","green","red","purple","brown"], "range": ["#1f77b4","#ff7f0e","#2ca02c","#d62728","#9467bd","#8c564b"]}}
}
},
{
"data": {"values": [{"h": 3346, "v": 273.9, "t": "2 stimulations separate by 6 month:"}]},
"mark": {"type": "text", "font": "Roboto", "fontWeight": "bold", "fontSize": 54, "align": "center", "baseline": "alphabetic", "color": "#000"},
"encoding": {"x": {"field": "h", "type": "quantitative"}, "y": {"field": "v", "type": "quantitative"}, "text": {"field": "t"}}
},
{
"data": {"values": [{"h": 2697, "v": 237.3, "t": "8 input of"}]},
"mark": {"type": "text", "font": "Roboto", "fontWeight": "bold", "fontSize": 54, "align": "right", "baseline": "alphabetic", "color": "#000"},
"encoding": {"x": {"field": "h", "type": "quantitative"}, "y": {"field": "v", "type": "quantitative"}, "text": {"field": "t"}}
},
{
"data": {"values": [{"h": 2760, "v": 237.3, "t": "TGFB1"}]},
"mark": {"type": "text", "font": "Roboto", "fontWeight": "bold", "fontSize": 54, "align": "left", "baseline": "alphabetic", "color": "#c60030"},
"encoding": {"x": {"field": "h", "type": "quantitative"}, "y": {"field": "v", "type": "quantitative"}, "text": {"field": "t"}}
},
{
"data": {"values": [{"h": 3454, "v": 237.3, "t": "every 90 hours"}]},
"mark": {"type": "text", "font": "Roboto", "fontWeight": "bold", "fontSize": 54, "align": "left", "baseline": "alphabetic", "color": "#000"},
"encoding": {"x": {"field": "h", "type": "quantitative"}, "y": {"field": "v", "type": "quantitative"}, "text": {"field": "t"}}
}
]
}
]
}
